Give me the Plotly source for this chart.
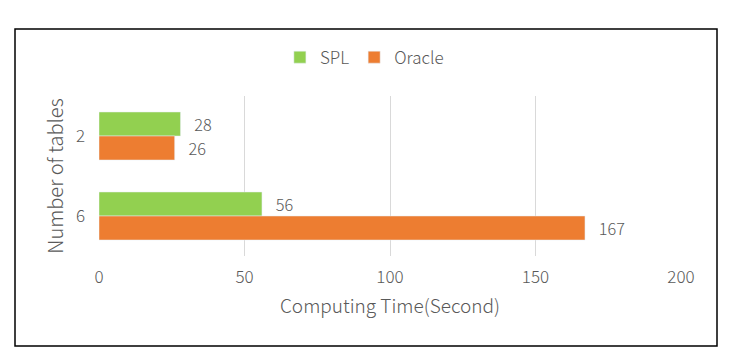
import plotly.graph_objects as go

categories = ["2", "6"]
spl = [28, 56]
oracle = [26, 167]
x_ticks = [0, 50, 100, 150, 200]

FONT = "Noto Sans CJK SC"
GREY = "#595959"
NB = "\u00a0" * 3
W = 300

fig = go.Figure()
fig.add_trace(go.Bar(
    y=categories, x=spl, name="SPL", orientation="h",
    marker=dict(color="#92D050"),
    text=spl, texttemplate=NB + "%{x}", textposition="outside",
    textfont=dict(family=FONT, size=17, color=GREY, weight=W), cliponaxis=False,
))
fig.add_trace(go.Bar(
    y=categories, x=oracle, name="Oracle", orientation="h",
    marker=dict(color="#ED7D31"),
    text=oracle, texttemplate=NB + "%{x}", textposition="outside",
    textfont=dict(family=FONT, size=17, color=GREY, weight=W), cliponaxis=False,
))

# page body has an 8px margin; figure is sized/placed to compensate
fig.update_layout(
    width=722, height=341,
    margin=dict(l=91, r=49, t=88, b=93),
    paper_bgcolor="white", plot_bgcolor="white",
    barmode="group", bargap=0.4, bargroupgap=0,
    font=dict(family=FONT, color=GREY, size=17, weight=W),
    showlegend=True,
    legend=dict(orientation="h", x=0.456, xanchor="center", y=1.24, yanchor="middle",
                font=dict(family=FONT, size=17, color=GREY, weight=W), traceorder="normal",
                itemwidth=30),
    xaxis=dict(range=[0, 200], tickvals=x_ticks, showgrid=True, gridcolor="#D9D9D9",
               gridwidth=1, zeroline=False, showline=False, ticks="", ticklabelstandoff=9,
               tickfont=dict(family=FONT, size=17, color=GREY, weight=W),
               title=dict(text="Computing Time(Second)", font=dict(family=FONT, size=19, color=GREY, weight=W),
                          standoff=12)),
    yaxis=dict(autorange="reversed", type="category", showgrid=False, zeroline=False,
               showline=False, ticks="", ticklabelstandoff=13,
               tickfont=dict(family=FONT, size=17, color=GREY, weight=W),
               title=dict(text="Number of tables", font=dict(family=FONT, size=20, color=GREY, weight=W),
                          standoff=6)),
    shapes=[dict(type="rect", xref="paper", yref="paper",
                 x0=(15 - 99) / 582, x1=(717 - 99) / 582,
                 y0=(256 - 346) / 160, y1=(256 - 29) / 160,
                 line=dict(color="black", width=1.5), fillcolor="rgba(0,0,0,0)", layer="below")],
)

fig.write_html("out.html")
